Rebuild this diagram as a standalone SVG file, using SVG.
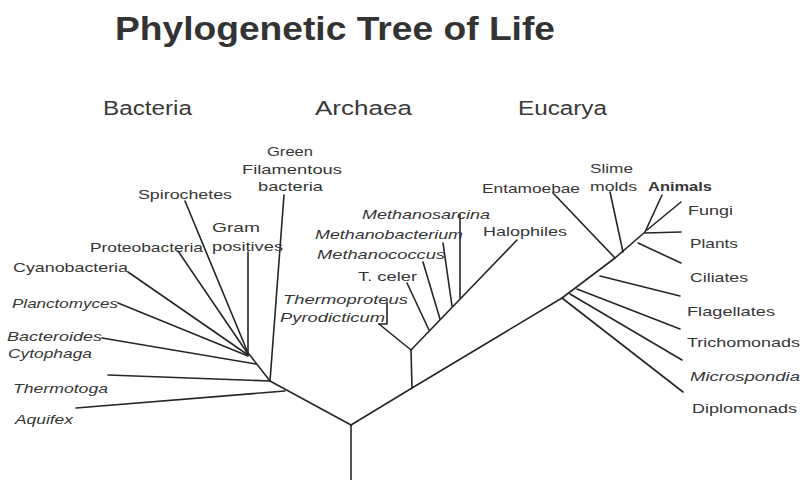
<svg xmlns="http://www.w3.org/2000/svg" width="803" height="480" viewBox="0 0 803 480">
<style>
text{font-family:"Liberation Sans",Arial,sans-serif;fill:#363636}
.t{font-size:34px;font-weight:bold;fill:#333}
.d{font-size:20px;fill:#3a3a3a}
.l{font-size:13px}
.i{font-style:italic}
.b{font-weight:bold}
.e line,.e polyline{stroke:#262626;stroke-width:1.6;fill:none;stroke-linecap:round;stroke-linejoin:round}
</style>
<rect width="803" height="480" fill="#fff"/>
<text class="t" x="115" y="40" textLength="440" lengthAdjust="spacingAndGlyphs">Phylogenetic Tree of Life</text>
<g id="domain-bacteria"><text class="d" x="103" y="115" textLength="89" lengthAdjust="spacingAndGlyphs">Bacteria</text></g>
<g id="domain-archaea"><text class="d" x="315" y="115" textLength="97" lengthAdjust="spacingAndGlyphs">Archaea</text></g>
<g id="domain-eucarya"><text class="d" x="518" y="115" textLength="89" lengthAdjust="spacingAndGlyphs">Eucarya</text></g>

<g id="connectors" class="e">
<line x1="351" y1="425" x2="351" y2="480"/>
<line x1="351" y1="425" x2="270" y2="381"/>
<polyline points="351,425 412,388 562,298 615,258 645,232"/>
<!-- bacteria -->
<line x1="249" y1="354" x2="270" y2="381"/>
<line x1="284" y1="195" x2="270" y2="381"/>
<line x1="248" y1="252" x2="248" y2="355"/>
<line x1="185" y1="201" x2="248" y2="353"/>
<line x1="178" y1="251" x2="248" y2="354"/>
<line x1="128" y1="272" x2="248" y2="355"/>
<line x1="118" y1="303" x2="248" y2="356"/>
<line x1="102" y1="338" x2="256" y2="364"/>
<line x1="108" y1="375" x2="270" y2="381"/>
<line x1="76" y1="408" x2="285" y2="391"/>
<!-- archaea -->
<line x1="412" y1="388" x2="411" y2="350"/>
<line x1="411" y1="350" x2="379" y2="324"/>
<polyline points="379,324 387,324 387,302"/>
<line x1="411" y1="350" x2="517" y2="240"/>
<line x1="429" y1="330" x2="407" y2="283"/>
<line x1="440" y1="319" x2="423" y2="262"/>
<line x1="452" y1="306" x2="443" y2="243"/>
<line x1="460" y1="298" x2="460" y2="214"/>
<!-- eucarya -->
<line x1="615" y1="258" x2="553" y2="193"/>
<line x1="623" y1="252" x2="610" y2="192"/>
<line x1="645" y1="232" x2="662" y2="195"/>
<line x1="647" y1="230" x2="681" y2="202"/>
<line x1="645" y1="233" x2="681" y2="232"/>
<line x1="638" y1="243" x2="681" y2="263"/>
<line x1="600" y1="276" x2="680" y2="296"/>
<line x1="577" y1="289" x2="680" y2="329"/>
<line x1="570" y1="294" x2="682" y2="360"/>
<line x1="562" y1="298" x2="683" y2="392"/>
</g>

<g id="green-filamentous"><text class="l" x="267" y="156" textLength="46" lengthAdjust="spacingAndGlyphs">Green</text><text class="l" x="242" y="174" textLength="100" lengthAdjust="spacingAndGlyphs">Filamentous</text><text class="l" x="258" y="191" textLength="65" lengthAdjust="spacingAndGlyphs">bacteria</text></g>
<g id="spirochetes"><text class="l" x="138" y="199" textLength="94" lengthAdjust="spacingAndGlyphs">Spirochetes</text></g>
<g id="gram-positives"><text class="l" x="212" y="232" textLength="48" lengthAdjust="spacingAndGlyphs">Gram</text><text class="l" x="212" y="251" textLength="71" lengthAdjust="spacingAndGlyphs">positives</text></g>
<g id="proteobacteria"><text class="l" x="90" y="252" textLength="113" lengthAdjust="spacingAndGlyphs">Proteobacteria</text></g>
<g id="cyanobacteria"><text class="l" x="13" y="272" textLength="115" lengthAdjust="spacingAndGlyphs">Cyanobacteria</text></g>
<g id="planctomyces"><text class="l i" x="12" y="308" textLength="106" lengthAdjust="spacingAndGlyphs">Planctomyces</text></g>
<g id="bacteroides"><text class="l i" x="7" y="341" textLength="95" lengthAdjust="spacingAndGlyphs">Bacteroides</text><text class="l i" x="8" y="358" textLength="84" lengthAdjust="spacingAndGlyphs">Cytophaga</text></g>
<g id="thermotoga"><text class="l i" x="13" y="393" textLength="95" lengthAdjust="spacingAndGlyphs">Thermotoga</text></g>
<g id="aquifex"><text class="l i" x="15" y="424" textLength="58" lengthAdjust="spacingAndGlyphs">Aquifex</text></g>

<g id="methanosarcina"><text class="l i" x="362" y="219" textLength="128" lengthAdjust="spacingAndGlyphs">Methanosarcina</text></g>
<g id="methanobacterium"><text class="l i" x="315" y="239" textLength="148" lengthAdjust="spacingAndGlyphs">Methanobacterium</text></g>
<g id="methanococcus"><text class="l i" x="317" y="259" textLength="128" lengthAdjust="spacingAndGlyphs">Methanococcus</text></g>
<g id="t-celer"><text class="l" x="358" y="281" textLength="59" lengthAdjust="spacingAndGlyphs">T. celer</text></g>
<g id="thermoproteus"><text class="l i" x="283" y="304" textLength="125" lengthAdjust="spacingAndGlyphs">Thermoproteus</text></g>
<g id="pyrodicticum"><text class="l i" x="280" y="322" textLength="105" lengthAdjust="spacingAndGlyphs">Pyrodicticum</text></g>
<g id="halophiles"><text class="l" x="483" y="236" textLength="84" lengthAdjust="spacingAndGlyphs">Halophiles</text></g>

<g id="entamoebae"><text class="l" x="482" y="193" textLength="98" lengthAdjust="spacingAndGlyphs">Entamoebae</text></g>
<g id="slime-molds"><text class="l" x="590" y="173" textLength="43" lengthAdjust="spacingAndGlyphs">Slime</text><text class="l" x="590" y="191" textLength="47" lengthAdjust="spacingAndGlyphs">molds</text></g>
<g id="animals"><text class="l b" x="648" y="191" textLength="64" lengthAdjust="spacingAndGlyphs">Animals</text></g>
<g id="fungi"><text class="l" x="688" y="215" textLength="45" lengthAdjust="spacingAndGlyphs">Fungi</text></g>
<g id="plants"><text class="l" x="690" y="248" textLength="48" lengthAdjust="spacingAndGlyphs">Plants</text></g>
<g id="ciliates"><text class="l" x="690" y="282" textLength="58" lengthAdjust="spacingAndGlyphs">Ciliates</text></g>
<g id="flagellates"><text class="l" x="687" y="316" textLength="88" lengthAdjust="spacingAndGlyphs">Flagellates</text></g>
<g id="trichomonads"><text class="l" x="687" y="347" textLength="113" lengthAdjust="spacingAndGlyphs">Trichomonads</text></g>
<g id="microspondia"><text class="l i" x="690" y="381" textLength="110" lengthAdjust="spacingAndGlyphs">Microspondia</text></g>
<g id="diplomonads"><text class="l" x="692" y="413" textLength="105" lengthAdjust="spacingAndGlyphs">Diplomonads</text></g>
</svg>
